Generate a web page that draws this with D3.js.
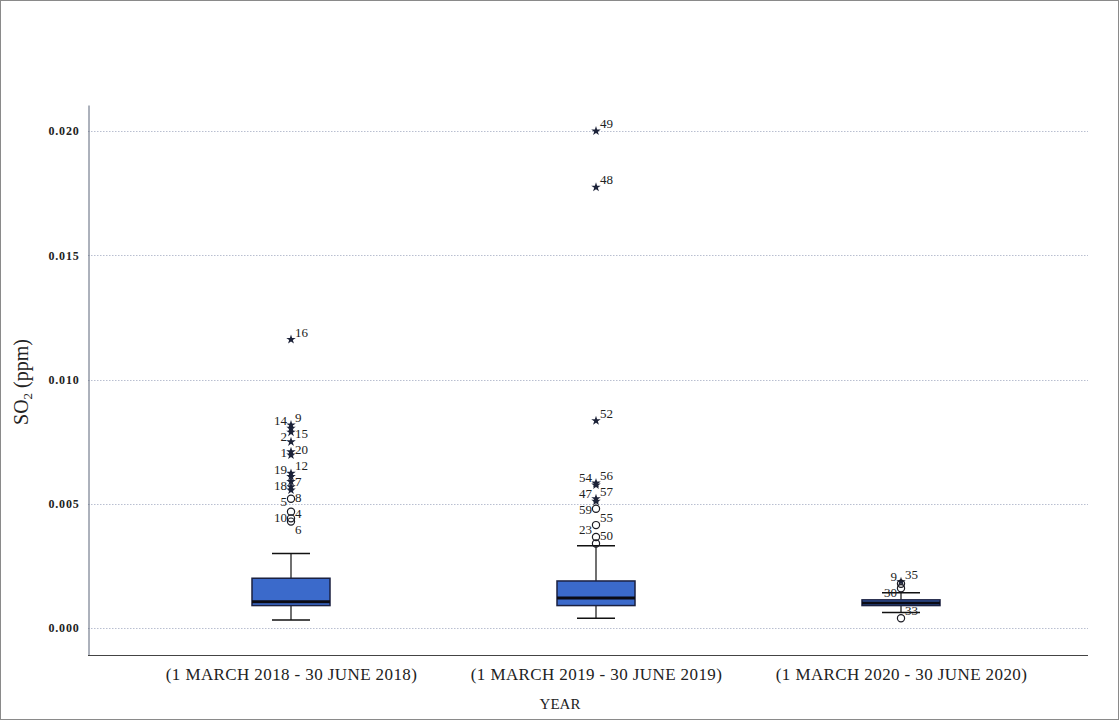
<!DOCTYPE html>
<html>
<head>
<meta charset="utf-8">
<script src="https://cdn.jsdelivr.net/npm/d3@7"></script>
<style>
  html, body { margin: 0; padding: 0; background: #fff; }
  svg { display: block; }
  .txt { opacity: 0.999; }
</style>
</head>
<body>
<svg id="chart" width="1119" height="720"></svg>
<script>
// Sampling periods (categories on the x axis)
const categories = [
  "(1 MARCH 2018 - 30 JUNE 2018)",
  "(1 MARCH 2019 - 30 JUNE 2019)",
  "(1 MARCH 2020 - 30 JUNE 2020)"
];

// Five-number summaries of SO2 (ppm) per period
const whiskerLow  = [0.00032, 0.00039, 0.00062];
const q1          = [0.00090, 0.00090, 0.00090];
const median      = [0.00105, 0.00120, 0.00100];
const q3          = [0.00200, 0.00189, 0.00113];
const whiskerHigh = [0.00300, 0.00331, 0.00142];

// Outlying days: case numbers and SO2 values
const outlierCases2018  = [16, 9, 14, 15, 2, 20, 1, 12, 19, 7, 18, 8, 5, 4, 10, 6];
const outlierValues2018 = [0.01161, 0.00817, 0.00804, 0.00788, 0.00749, 0.00709, 0.00696,
                           0.00622, 0.00609, 0.00589, 0.00568, 0.00555, 0.00520, 0.00468,
                           0.00441, 0.00428];
const outlierCases2019  = [49, 48, 52, 56, 54, 57, 47, 59, 55, 23, 50];
const outlierValues2019 = [0.02000, 0.01774, 0.00834, 0.00583, 0.00575, 0.00520, 0.00510,
                           0.00480, 0.00414, 0.00366, 0.00340];
const outlierCases2020  = [35, 9, 30, 33];
const outlierValues2020 = [0.00186, 0.00178, 0.00160, 0.00039];

// Case numbers whose labels sit to the left of their marker
const leftLabelCases = [[14, 2, 1, 19, 18, 5, 10], [54, 47, 59, 23], [9, 30]];

// Y axis ticks
const yTicks = [0.000, 0.005, 0.010, 0.015, 0.020];

const outlierCases  = [outlierCases2018, outlierCases2019, outlierCases2020];
const outlierValues = [outlierValues2018, outlierValues2019, outlierValues2020];

const svg = d3.select("#chart");
const W = 1119, H = 720;
const plot = { left: 88, right: 1088, top: 105, bottom: 655 };
const serif = "'Liberation Serif', 'Times New Roman', serif";

// page frame
svg.append("rect")
  .attr("x", 0.5).attr("y", 0.5).attr("width", W - 1).attr("height", H - 1)
  .attr("fill", "#fff").attr("stroke", "#8a8a8a").attr("stroke-width", 1);

const y = d3.scaleLinear().domain([-0.00109, 0.02105]).range([plot.bottom, plot.top]);
const x = d3.scalePoint().domain(categories).range([291, 901]);

// horizontal grid lines
svg.append("g").selectAll("line").data(yTicks).join("line")
  .attr("x1", plot.left).attr("x2", plot.right)
  .attr("y1", d => Math.round(y(d)) + 0.5).attr("y2", d => Math.round(y(d)) + 0.5)
  .attr("stroke", "#b9bfd0").attr("stroke-width", 1).attr("stroke-dasharray", "1.5,1.5");

// y axis
const yAxis = svg.append("g")
  .attr("transform", `translate(${plot.left + 0.5},0)`)
  .call(d3.axisLeft(y).tickValues(yTicks).tickFormat(d3.format(".3f")).tickSize(0).tickPadding(9));
yAxis.select(".domain").attr("stroke", "#5a6478").attr("stroke-width", 1);
yAxis.selectAll("text").attr("class", "txt")
  .attr("font-family", serif).attr("font-size", 12).attr("font-weight", "bold")
  .attr("letter-spacing", 0.8).attr("fill", "#222");

// x axis
const xAxis = svg.append("g")
  .attr("transform", `translate(0,${plot.bottom + 0.5})`)
  .call(d3.axisBottom(x).tickSize(0).tickPadding(12));
xAxis.select(".domain").attr("d", `M${plot.left},0H${plot.right}`)
  .attr("stroke", "#444").attr("stroke-width", 1.2);
xAxis.selectAll("text").attr("class", "txt")
  .attr("font-family", serif).attr("font-size", 17).attr("letter-spacing", 0.4).attr("fill", "#222");

// axis titles
svg.append("text").attr("class", "txt")
  .attr("x", 560).attr("y", 709)
  .attr("text-anchor", "middle").attr("font-family", serif).attr("font-size", 15).attr("fill", "#222")
  .text("YEAR");

const yTitle = svg.append("text").attr("class", "txt")
  .attr("transform", `translate(28,382) rotate(-90)`)
  .attr("text-anchor", "middle").attr("font-family", serif).attr("font-size", 20).attr("fill", "#222");
yTitle.append("tspan").text("SO");
yTitle.append("tspan").attr("font-size", 13).attr("dy", 4).text("2");
yTitle.append("tspan").attr("dy", -4).text(" (ppm)");

// box plots
const boxW = 78, capW = 38;
const boxes = svg.append("g");
categories.forEach((c, i) => {
  const cx = x(c);
  const g = boxes.append("g");
  // whisker stems
  g.append("line").attr("x1", cx).attr("x2", cx).attr("y1", y(q3[i])).attr("y2", y(whiskerHigh[i]))
    .attr("stroke", "#111").attr("stroke-width", 1.2);
  g.append("line").attr("x1", cx).attr("x2", cx).attr("y1", y(q1[i])).attr("y2", y(whiskerLow[i]))
    .attr("stroke", "#111").attr("stroke-width", 1.2);
  // caps
  [whiskerHigh[i], whiskerLow[i]].forEach(v => {
    g.append("line").attr("x1", cx - capW / 2).attr("x2", cx + capW / 2)
      .attr("y1", y(v)).attr("y2", y(v)).attr("stroke", "#111").attr("stroke-width", 1.5);
  });
  // box
  g.append("rect")
    .attr("x", cx - boxW / 2).attr("width", boxW)
    .attr("y", y(q3[i])).attr("height", Math.max(1, y(q1[i]) - y(q3[i])))
    .attr("fill", "#3b6acb").attr("stroke", "#1b2140").attr("stroke-width", 1.5);
  // median
  g.append("line").attr("x1", cx - boxW / 2).attr("x2", cx + boxW / 2)
    .attr("y1", y(median[i])).attr("y2", y(median[i]))
    .attr("stroke", "#0b0b14").attr("stroke-width", 3);
});

// outliers: stars beyond 3 IQR, circles otherwise
const star = d3.symbol().type(d3.symbolStar).size(28);
const marks = svg.append("g");
const labels = svg.append("g").attr("class", "txt");
categories.forEach((c, i) => {
  const cx = x(c);
  const iqr = q3[i] - q1[i];
  const pts = outlierCases[i].map((k, j) => ({ k, v: outlierValues[i][j] }))
    .sort((a, b) => b.v - a.v);
  const lastY = { L: -Infinity, R: -Infinity };
  pts.forEach(p => {
    const py = y(p.v);
    const extreme = p.v > q3[i] + 3 * iqr || p.v < q1[i] - 3 * iqr;
    if (extreme) {
      marks.append("path").attr("d", star).attr("transform", `translate(${cx},${py})`)
        .attr("fill", "#1c2238");
    } else {
      marks.append("circle").attr("cx", cx).attr("cy", py).attr("r", 3.6)
        .attr("fill", "none").attr("stroke", "#1c1c24").attr("stroke-width", 1.2);
    }
    // labels stack downward on each side so they never collide
    const side = leftLabelCases[i].includes(p.k) ? "L" : "R";
    const ly = Math.max(py - 7, lastY[side] + 16);
    lastY[side] = ly;
    labels.append("text")
      .attr("x", side === "R" ? cx + 4 : cx - 4).attr("y", ly + 4)
      .attr("text-anchor", side === "R" ? "start" : "end")
      .attr("font-family", serif).attr("font-size", 13).attr("fill", "#222")
      .text(p.k);
  });
});
</script>
</body>
</html>
